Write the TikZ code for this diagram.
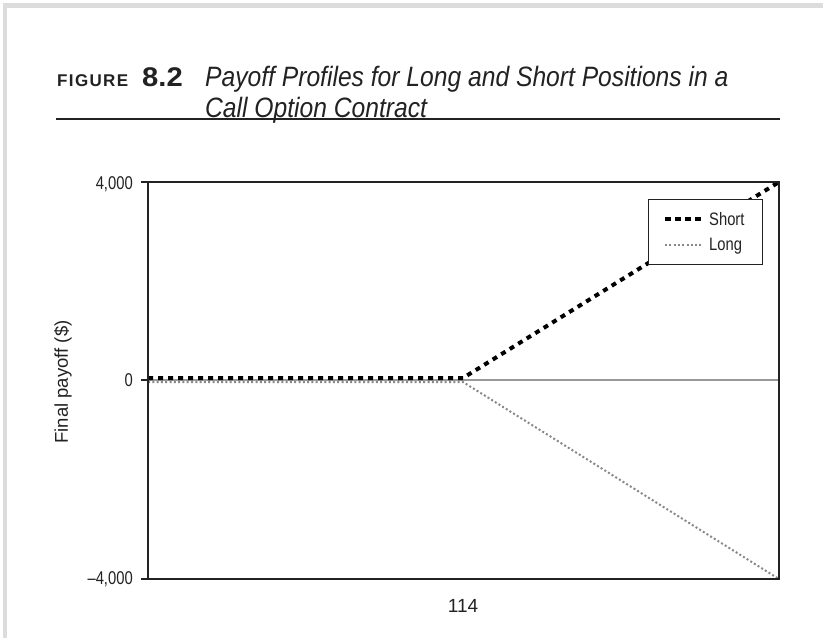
\documentclass[tikz,border=0pt]{standalone}
\usepackage{fontspec}
\setmainfont{Liberation Sans}
\newfontfamily\figfont{Liberation Sans}[LetterSpace=8]
\usepackage{graphicx}
\definecolor{pageframe}{HTML}{DCDCDC}
\definecolor{axisdark}{HTML}{222222}
\definecolor{zerogray}{HTML}{999999}
\definecolor{longgray}{HTML}{888888}
\begin{document}
\begin{tikzpicture}[x=1pt,y=-1pt,
  axisline/.style={line width=2pt, draw=axisdark},
  tickline/.style={line width=1.4pt, draw=axisdark},
  shortline/.style={line width=4pt, dash pattern=on 5pt off 5pt, draw=black},
  longline/.style={line width=2pt, dash pattern=on 2pt off 2.3pt, draw=longgray},
  zeroline/.style={line width=2.2pt, draw=zerogray},
  ticklbl/.style={anchor=east, inner sep=0pt, font=\fontsize{18.5}{18.5}\selectfont, text=axisdark},
  legtext/.style={anchor=base west, inner sep=0pt, font=\fontsize{18}{18}\selectfont, text=axisdark},
  titletext/.style={anchor=base west, inner sep=0pt, font=\fontsize{28}{28}\selectfont\itshape, text=axisdark},
]
\useasboundingbox (0,0) rectangle (823,638);
\fill[white] (0,0) rectangle (823,638);
% page frame
\draw[line width=4.5pt, draw=pageframe] (5,638) -- (5,5.5) -- (823,5.5);

% title
\node[anchor=base west, inner sep=0pt, text=axisdark, font=\fontsize{17}{17}\selectfont\figfont\bfseries] (figlbl) at (57,86) {FIGURE};
\node[anchor=base west, inner sep=0pt, text=axisdark, font=\fontsize{27}{27}\selectfont\bfseries] (fignum) at (142,86) {\scalebox{1.08}[1]{8.2}};
\node[titletext] (title1) at (205,86) {\scalebox{0.88}[1]{Payoff Profiles for Long and Short Positions in a}};
\node[titletext] (title2) at (205,117) {\scalebox{0.88}[1]{Call Option Contract}};
\draw[line width=2pt, draw=axisdark] (56,119) -- (780,119);

% coordinates
\coordinate (tl) at (148,182);
\coordinate (tr) at (779,182);
\coordinate (bl) at (148,579);
\coordinate (br) at (779,579);
\coordinate (zl) at (148,380);
\coordinate (zk) at (463,380);
\coordinate (zr) at (779,380);
\coordinate (sl) at (148,378);
\coordinate (sk) at (463,378);
\coordinate (ll) at (148,382);
\coordinate (lk) at (463,382);

% zero line
\draw[zeroline] (zl) -- (zr);
% data
\draw[longline] (ll) -- (lk) -- (br);
\draw[shortline] (sl) -- (sk) -- (tr);

% frame
\draw[axisline] (tl) rectangle (br);
\draw[tickline] (141,182) -- (tl);
\draw[tickline] (141,380) -- (zl);
\draw[tickline] (141,579) -- (bl);

% tick labels
\node[ticklbl] (t4k) at (133,184) {\scalebox{0.8}[1]{4,000}};
\node[ticklbl] (t0) at (133,380) {\scalebox{0.8}[1]{0}};
\node[ticklbl] (tm4k) at (133,579) {\scalebox{0.8}[1]{–4,000}};

% axis label
\node[rotate=90, inner sep=0pt, text=axisdark, font=\fontsize{18.5}{18.5}\selectfont] (ylbl) at (63,382) {Final payoff (\$)};

% x label
\node[inner sep=0pt, text=axisdark, font=\fontsize{19}{19}\selectfont] (xlbl) at (463,606) {114};

% legend
\node[draw=axisdark, line width=1pt, fill=white, minimum width=114pt, minimum height=65pt, inner sep=0pt] (legend) at (705,231.5) {};
\coordinate (sa) at (665,219);
\coordinate (sb) at (702,219);
\coordinate (la) at (665,245);
\coordinate (lb) at (702,245);
\draw[shortline, dash pattern=on 6pt off 4pt] (sa) -- (sb);
\draw[longline] (la) -- (lb);
\node[legtext] (lgs) at (709,225) {\scalebox{0.82}[1]{Short}};
\node[legtext] (lgl) at (709,250) {\scalebox{0.82}[1]{Long}};
\end{tikzpicture}
\end{document}
